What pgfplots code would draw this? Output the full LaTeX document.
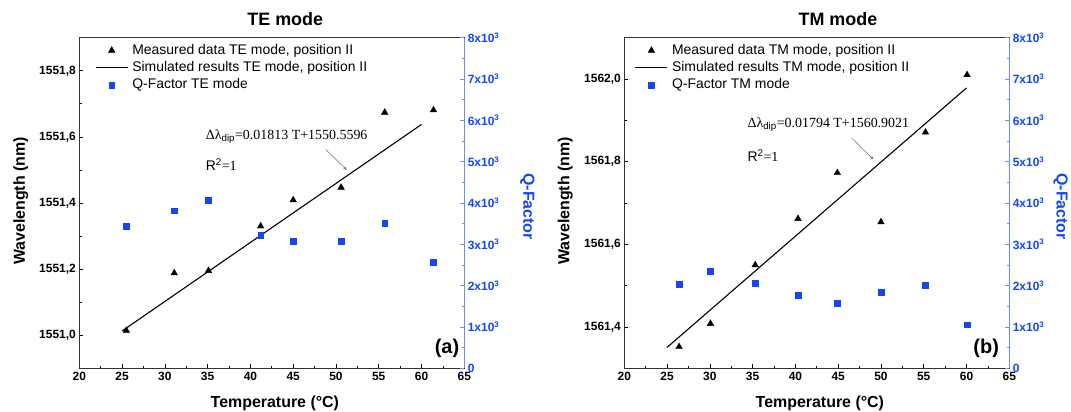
\documentclass[border=0pt]{standalone}
\usepackage{pgfplots}
\pgfplotsset{compat=1.18}
\usepackage{fontspec}
\setmainfont{Liberation Sans}
\newfontfamily\timesfont{Liberation Serif}
\definecolor{qblue}{RGB}{20,70,245}
\definecolor{qaxis}{RGB}{110,140,255}

\pgfplotsset{
  panel/.style={
    scale only axis, width=385bp, height=330.6bp, anchor=south west,
    xmin=20, xmax=65, xtick={20,25,...,65}, minor x tick num=1,
    tick label style={font=\bfseries\fontsize{12}{14}\selectfont},
    /pgf/number format/assume math mode=true,
    tick align=inside,
    major tick length=4bp, minor tick length=2.3bp,
    axis line style={line width=0.9bp, black!80},
    every tick/.style={line width=0.7bp, black},
    scaled y ticks=false,
    clip=false,
  },
  leftax/.style={
    panel, xtick pos=bottom, ytick pos=left, minor y tick num=1,
    xlabel={Temperature (°C)}, ylabel={Wavelength (nm)},
    every axis x label/.style={at={(axis description cs:0.508,-0.1059)}, anchor=center, font=\bfseries\fontsize{16}{18}\selectfont},
    legend style={at={(axis description cs:0,1)}, anchor=north west, yshift=-5.8bp,
      draw=none, fill=none, inner sep=0pt, row sep=3.7bp, column sep=4bp,
      font=\fontsize{14}{16}\selectfont,
      nodes={inner sep=0pt, text height=10.5bp, text depth=3bp}},
    legend cell align=left,
    legend image code/.code={\draw[mark repeat=2,mark phase=2,##1] plot coordinates {(0bp,0bp) (16bp,0bp) (32bp,0bp)};},
  },
  rightax/.style={
    panel, axis x line=none, axis y line*=right, ymin=0, ymax=8000,
    ytick={0,1000,...,8000}, minor y tick num=1,
    yticklabels={0,1x10\textsuperscript{3},2x10\textsuperscript{3},3x10\textsuperscript{3},4x10\textsuperscript{3},5x10\textsuperscript{3},6x10\textsuperscript{3},7x10\textsuperscript{3},8x10\textsuperscript{3}},
    yticklabel style={qblue},
    y axis line style={qaxis, line width=0.9bp},
    every tick/.style={line width=0.7bp, qaxis},
    ylabel={Q-Factor},
  },
  meas/.style={only marks, mark=triangle*, mark size=3.8bp, black},
  sim/.style={black, line width=1.1bp, no marks},
  qf/.style={only marks, mark=square*, mark size=2.9bp, qblue},
}

\begin{document}
\begin{tikzpicture}
\useasboundingbox (0,0) rectangle (1071bp,412bp);

% ---------------- Left panel (TE) ----------------
\begin{axis}[leftax, at={(79.3bp,43.7bp)},
  ymin=1550.9, ymax=1551.9,
  ytick={1551.0,1551.2,1551.4,1551.6,1551.8},
  yticklabels={{1551,0},{1551,2},{1551,4},{1551,6},{1551,8}},
  every axis y label/.style={at={(axis description cs:-0.152,0.506)}, anchor=center, rotate=90, font=\bfseries\fontsize{16}{18}\selectfont},
  legend style={xshift=15.7bp}]
\addplot[meas] coordinates {(25.5,1551.014) (31.1,1551.188) (35.1,1551.195) (41.2,1551.330) (45.0,1551.409) (50.6,1551.447) (55.7,1551.674) (61.4,1551.681)};
\addlegendentry{Measured data TE mode, position II}
\addplot[sim] coordinates {(25,1551.0129) (60,1551.6376)};
\addlegendentry{Simulated results TE mode, position II}
\addlegendimage{qf}
\addlegendentry{Q-Factor TE mode}
\node[anchor=west, inner sep=0pt, font=\fontsize{14}{16}\selectfont] at (axis cs:34.77,1551.60)
  {{\timesfont Δλ}\textsubscript{dip}{\timesfont =0.01813 T+1550.5596}};
\node[anchor=west, inner sep=0pt, font=\fontsize{14}{16}\selectfont] at (axis cs:34.77,1551.515)
  {R\textsuperscript{2}{\timesfont =1}};
\draw[->, >=stealth, black!60, line width=0.5bp] (axis cs:48.8,1551.562) -- (axis cs:51.25,1551.50);
\node[font=\bfseries\fontsize{20}{22}\selectfont] at (axis description cs:0.955,0.061) {(a)};
\node[font=\bfseries\fontsize{18}{20}\selectfont] at (axis description cs:0.535,1.0557) {TE mode};
\end{axis}
\begin{axis}[rightax, at={(79.3bp,43.7bp)},
  every axis y label/.style={at={(axis description cs:1.164,0.489)}, anchor=center, rotate=-90, qblue, font=\bfseries\fontsize{16}{18}\selectfont}]
\addplot[qf] coordinates {(25.5,3435) (31.1,3815) (35.1,4065) (41.2,3220) (45.0,3080) (50.6,3080) (55.7,3510) (61.4,2560)};
\end{axis}

% ---------------- Right panel (TM) ----------------
\begin{axis}[leftax, at={(624.3bp,43.7bp)},
  ymin=1561.3, ymax=1562.1,
  ytick={1561.4,1561.6,1561.8,1562.0},
  yticklabels={{1561,4},{1561,6},{1561,8},{1562,0}},
  every axis y label/.style={at={(axis description cs:-0.153,0.506)}, anchor=center, rotate=90, font=\bfseries\fontsize{16}{18}\selectfont},
  legend style={xshift=10.4bp}]
\addplot[meas] coordinates {(26.4,1561.352) (30.07,1561.408) (35.3,1561.550) (40.3,1561.662) (44.9,1561.773) (50.0,1561.654) (55.2,1561.871) (60.06,1562.010)};
\addlegendentry{Measured data TM mode, position II}
\addplot[sim] coordinates {(25,1561.3506) (60,1561.9785)};
\addlegendentry{Simulated results TM mode, position II}
\addlegendimage{qf}
\addlegendentry{Q-Factor TM mode}
\node[anchor=west, inner sep=0pt, font=\fontsize{14}{16}\selectfont] at (axis cs:34.38,1561.889)
  {{\timesfont Δλ}\textsubscript{dip}{\timesfont =0.01794 T+1560.9021}};
\node[anchor=west, inner sep=0pt, font=\fontsize{14}{16}\selectfont] at (axis cs:34.38,1561.815)
  {R\textsuperscript{2}{\timesfont =1}};
\draw[->, >=stealth, black!60, line width=0.5bp] (axis cs:46.58,1561.857) -- (axis cs:49.1,1561.806);
\node[font=\bfseries\fontsize{20}{22}\selectfont] at (axis description cs:0.94,0.061) {(b)};
\node[font=\bfseries\fontsize{18}{20}\selectfont] at (axis description cs:0.555,1.0557) {TM mode};
\end{axis}
\begin{axis}[rightax, at={(624.3bp,43.7bp)},
  every axis y label/.style={at={(axis description cs:1.133,0.489)}, anchor=center, rotate=-90, qblue, font=\bfseries\fontsize{16}{18}\selectfont}]
\addplot[qf] coordinates {(26.4,2040) (30.07,2340) (35.3,2050) (40.3,1765) (44.9,1580) (50.0,1840) (55.2,2010) (60.06,1055)};
\end{axis}
\end{tikzpicture}
\end{document}
